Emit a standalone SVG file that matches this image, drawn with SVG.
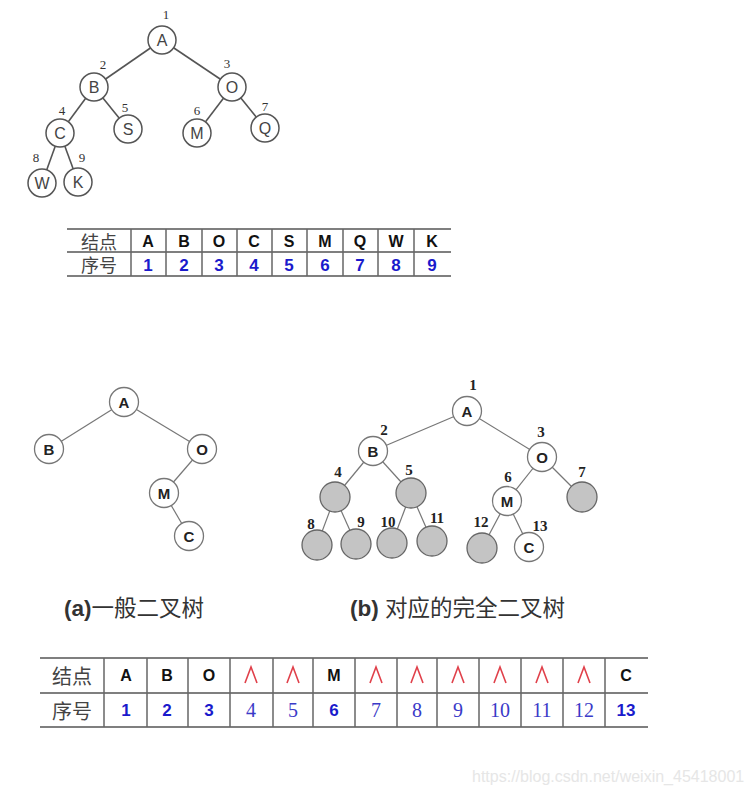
<svg xmlns="http://www.w3.org/2000/svg" width="751" height="800" viewBox="0 0 751 800">
<style>
.e1{stroke:#555;stroke-width:1.6;fill:none}
.n1 circle{fill:#fff;stroke:#555;stroke-width:1.5}
.n1 text{font-family:"Liberation Sans",Arial,sans-serif;font-size:16px;fill:#444;text-anchor:middle;dominant-baseline:central}
.n1 text.l1{font-family:"Liberation Serif","Times New Roman",serif;font-size:13px;fill:#333;dominant-baseline:auto}
.e2{stroke:#777;stroke-width:1.2;fill:none}
.n2 circle{fill:#fff;stroke:#777;stroke-width:1.3}
.n2 circle.g{fill:#c4c4c4;stroke:#666}
.n2 text{font-family:"Liberation Sans",Arial,sans-serif;font-size:15px;font-weight:bold;fill:#222;text-anchor:middle;dominant-baseline:central}
.n2 text.l2{font-family:"Liberation Serif","Times New Roman",serif;font-size:15px;font-weight:bold;fill:#222;dominant-baseline:auto}
.cap{font-family:"Liberation Sans","Noto Sans CJK SC",sans-serif;font-size:22.5px;fill:#333}
.hl{stroke:#555;stroke-width:1.5}
.vl{stroke:#666;stroke-width:1.5}
.th{font-family:"Noto Sans CJK SC",sans-serif;font-size:20px;fill:#444;text-anchor:middle;dominant-baseline:central}
.th.s{font-size:18px}
.tc{font-family:"Liberation Sans",Arial,sans-serif;font-size:16px;font-weight:bold;fill:#111;text-anchor:middle;dominant-baseline:central}
.tn{font-family:"Liberation Sans",Arial,sans-serif;font-size:17px;font-weight:bold;fill:#1a1acc;text-anchor:middle;dominant-baseline:central}
.ts{font-family:"Liberation Serif","Times New Roman",serif;font-size:20px;fill:#3a3ac8;text-anchor:middle;dominant-baseline:central}
.tw{stroke:#e0404a;stroke-width:1.6;fill:none}
.wm{font-family:"Liberation Sans",Arial,sans-serif;font-size:16px;fill:#e6e6e6}
</style>
<rect width="751" height="800" fill="#fff"/>

<!-- Top tree -->
<g id="top-edges">
<line class="e1" x1="162" y1="40" x2="94" y2="87"/>
<line class="e1" x1="162" y1="40" x2="232" y2="87"/>
<line class="e1" x1="94" y1="87" x2="60" y2="133"/>
<line class="e1" x1="94" y1="87" x2="128" y2="129"/>
<line class="e1" x1="232" y1="87" x2="197" y2="133"/>
<line class="e1" x1="232" y1="87" x2="265" y2="128"/>
<line class="e1" x1="60" y1="133" x2="42" y2="183"/>
<line class="e1" x1="60" y1="133" x2="78" y2="182"/>
</g>
<g id="t-A" class="n1"><circle cx="162" cy="40" r="14"/><text x="162" y="40">A</text><text class="l1" x="166" y="19">1</text></g>
<g id="t-B" class="n1"><circle cx="94" cy="87" r="14"/><text x="94" y="87">B</text><text class="l1" x="103" y="69">2</text></g>
<g id="t-O" class="n1"><circle cx="232" cy="87" r="14"/><text x="232" y="87">O</text><text class="l1" x="227" y="68">3</text></g>
<g id="t-C" class="n1"><circle cx="60" cy="133" r="14"/><text x="60" y="133">C</text><text class="l1" x="62" y="115">4</text></g>
<g id="t-S" class="n1"><circle cx="128" cy="129" r="14"/><text x="128" y="129">S</text><text class="l1" x="125" y="112">5</text></g>
<g id="t-M" class="n1"><circle cx="197" cy="133" r="14"/><text x="197" y="133">M</text><text class="l1" x="197" y="115">6</text></g>
<g id="t-Q" class="n1"><circle cx="265" cy="128" r="14"/><text x="265" y="128">Q</text><text class="l1" x="265" y="111">7</text></g>
<g id="t-W" class="n1"><circle cx="42" cy="183" r="14"/><text x="42" y="183">W</text><text class="l1" x="36" y="162">8</text></g>
<g id="t-K" class="n1"><circle cx="78" cy="182" r="14"/><text x="78" y="182">K</text><text class="l1" x="82" y="162">9</text></g>

<!-- Top table -->
<g id="table1">
<line class="hl" x1="67" y1="229" x2="451" y2="229"/>
<line class="hl" x1="67" y1="252" x2="451" y2="252"/>
<line class="hl" x1="67" y1="276" x2="451" y2="276"/>
<line class="vl" x1="131" y1="229" x2="131" y2="276"/>
<line class="vl" x1="166" y1="229" x2="166" y2="276"/>
<line class="vl" x1="202" y1="229" x2="202" y2="276"/>
<line class="vl" x1="237" y1="229" x2="237" y2="276"/>
<line class="vl" x1="272" y1="229" x2="272" y2="276"/>
<line class="vl" x1="307" y1="229" x2="307" y2="276"/>
<line class="vl" x1="343" y1="229" x2="343" y2="276"/>
<line class="vl" x1="378" y1="229" x2="378" y2="276"/>
<line class="vl" x1="414" y1="229" x2="414" y2="276"/>
<text class="th s" x="99" y="240.5">结点</text>
<text class="th s" x="99" y="264">序号</text>
<text class="tc" x="148" y="241">A</text><text class="tc" x="184" y="241">B</text><text class="tc" x="219" y="241">O</text><text class="tc" x="254" y="241">C</text><text class="tc" x="289" y="241">S</text><text class="tc" x="325" y="241">M</text><text class="tc" x="360" y="241">Q</text><text class="tc" x="396" y="241">W</text><text class="tc" x="432" y="241">K</text>
<text class="tn" x="148" y="265">1</text><text class="tn" x="184" y="265">2</text><text class="tn" x="219" y="265">3</text><text class="tn" x="254" y="265">4</text><text class="tn" x="289" y="265">5</text><text class="tn" x="325" y="265">6</text><text class="tn" x="360" y="265">7</text><text class="tn" x="396" y="265">8</text><text class="tn" x="432" y="265">9</text>
</g>

<!-- Tree (a) -->
<g id="a-edges">
<line class="e2" x1="124" y1="402" x2="49" y2="449"/>
<line class="e2" x1="124" y1="402" x2="202" y2="449"/>
<line class="e2" x1="202" y1="449" x2="164" y2="493"/>
<line class="e2" x1="164" y1="493" x2="189" y2="536"/>
</g>
<g id="a-A" class="n2"><circle cx="124" cy="402" r="14.5"/><text x="124" y="402">A</text></g>
<g id="a-B" class="n2"><circle cx="49" cy="449" r="14.5"/><text x="49" y="449">B</text></g>
<g id="a-O" class="n2"><circle cx="202" cy="449" r="14.5"/><text x="202" y="449">O</text></g>
<g id="a-M" class="n2"><circle cx="164" cy="493" r="14.5"/><text x="164" y="493">M</text></g>
<g id="a-C" class="n2"><circle cx="189" cy="536" r="14.5"/><text x="189" y="536">C</text></g>
<text class="cap" x="64" y="616"><tspan font-weight="bold">(a)</tspan>一般二叉树</text>

<!-- Tree (b) -->
<g id="b-edges">
<line class="e2" x1="467" y1="411" x2="373" y2="451"/>
<line class="e2" x1="467" y1="411" x2="542" y2="457"/>
<line class="e2" x1="373" y1="451" x2="335" y2="497"/>
<line class="e2" x1="373" y1="451" x2="411" y2="493"/>
<line class="e2" x1="542" y1="457" x2="507" y2="501"/>
<line class="e2" x1="542" y1="457" x2="582" y2="497"/>
<line class="e2" x1="335" y1="497" x2="317" y2="545"/>
<line class="e2" x1="335" y1="497" x2="356" y2="544"/>
<line class="e2" x1="411" y1="493" x2="392" y2="543"/>
<line class="e2" x1="411" y1="493" x2="432" y2="541"/>
<line class="e2" x1="507" y1="501" x2="482" y2="548"/>
<line class="e2" x1="507" y1="501" x2="529" y2="547"/>
</g>
<g id="b-1" class="n2"><circle cx="467" cy="411" r="14.5"/><text x="467" y="411">A</text><text class="l2" x="473" y="390">1</text></g>
<g id="b-2" class="n2"><circle cx="373" cy="451" r="14.5"/><text x="373" y="451">B</text><text class="l2" x="384" y="435">2</text></g>
<g id="b-3" class="n2"><circle cx="542" cy="457" r="14.5"/><text x="542" y="457">O</text><text class="l2" x="541" y="437">3</text></g>
<g id="b-4" class="n2"><circle class="g" cx="335" cy="497" r="15"/><text class="l2" x="338" y="477">4</text></g>
<g id="b-5" class="n2"><circle class="g" cx="411" cy="493" r="15"/><text class="l2" x="409" y="475">5</text></g>
<g id="b-6" class="n2"><circle cx="507" cy="501" r="14.5"/><text x="507" y="501">M</text><text class="l2" x="508" y="482">6</text></g>
<g id="b-7" class="n2"><circle class="g" cx="582" cy="497" r="15"/><text class="l2" x="582" y="477">7</text></g>
<g id="b-8" class="n2"><circle class="g" cx="317" cy="545" r="15"/><text class="l2" x="311" y="529">8</text></g>
<g id="b-9" class="n2"><circle class="g" cx="356" cy="544" r="15"/><text class="l2" x="361" y="527">9</text></g>
<g id="b-10" class="n2"><circle class="g" cx="392" cy="543" r="15"/><text class="l2" x="388" y="527">10</text></g>
<g id="b-11" class="n2"><circle class="g" cx="432" cy="541" r="15"/><text class="l2" x="437" y="523">11</text></g>
<g id="b-12" class="n2"><circle class="g" cx="482" cy="548" r="15"/><text class="l2" x="481" y="527">12</text></g>
<g id="b-13" class="n2"><circle cx="529" cy="547" r="14.5"/><text x="529" y="547">C</text><text class="l2" x="540" y="531">13</text></g>
<text class="cap" x="350" y="616"><tspan font-weight="bold">(b)</tspan> 对应的完全二叉树</text>

<!-- Bottom table -->
<defs><path id="wedge" class="tw" d="M-6,8 L0,-8 L6,8"/></defs>
<g id="table2">
<line class="hl" x1="40" y1="658" x2="648" y2="658"/>
<line class="hl" x1="40" y1="693" x2="648" y2="693"/>
<line class="hl" x1="40" y1="727" x2="648" y2="727"/>
<line class="vl" x1="104" y1="658" x2="104" y2="727"/>
<line class="vl" x1="147" y1="658" x2="147" y2="727"/>
<line class="vl" x1="188" y1="658" x2="188" y2="727"/>
<line class="vl" x1="230" y1="658" x2="230" y2="727"/>
<line class="vl" x1="273" y1="658" x2="273" y2="727"/>
<line class="vl" x1="313" y1="658" x2="313" y2="727"/>
<line class="vl" x1="355" y1="658" x2="355" y2="727"/>
<line class="vl" x1="397" y1="658" x2="397" y2="727"/>
<line class="vl" x1="437" y1="658" x2="437" y2="727"/>
<line class="vl" x1="479" y1="658" x2="479" y2="727"/>
<line class="vl" x1="521" y1="658" x2="521" y2="727"/>
<line class="vl" x1="563" y1="658" x2="563" y2="727"/>
<line class="vl" x1="605" y1="658" x2="605" y2="727"/>
<text class="th" x="72" y="675">结点</text>
<text class="th" x="72" y="710">序号</text>
<text class="tc" x="126" y="675">A</text>
<text class="tc" x="167" y="675">B</text>
<text class="tc" x="209" y="675">O</text>
<use href="#wedge" x="251" y="675"/>
<use href="#wedge" x="293" y="675"/>
<text class="tc" x="334" y="675">M</text>
<use href="#wedge" x="376" y="675"/>
<use href="#wedge" x="417" y="675"/>
<use href="#wedge" x="458" y="675"/>
<use href="#wedge" x="500" y="675"/>
<use href="#wedge" x="542" y="675"/>
<use href="#wedge" x="584" y="675"/>
<text class="tc" x="626" y="675">C</text>
<text class="tn" x="126" y="710">1</text>
<text class="tn" x="167" y="710">2</text>
<text class="tn" x="209" y="710">3</text>
<text class="ts" x="251" y="710">4</text>
<text class="ts" x="293" y="710">5</text>
<text class="tn" x="334" y="710">6</text>
<text class="ts" x="376" y="710">7</text>
<text class="ts" x="417" y="710">8</text>
<text class="ts" x="458" y="710">9</text>
<text class="ts" x="500" y="710">10</text>
<text class="ts" x="542" y="710">11</text>
<text class="ts" x="584" y="710">12</text>
<text class="tn" x="626" y="710">13</text>
</g>
<text class="wm" x="472" y="782">https://blog.csdn.net/weixin_45418001</text>
</svg>
